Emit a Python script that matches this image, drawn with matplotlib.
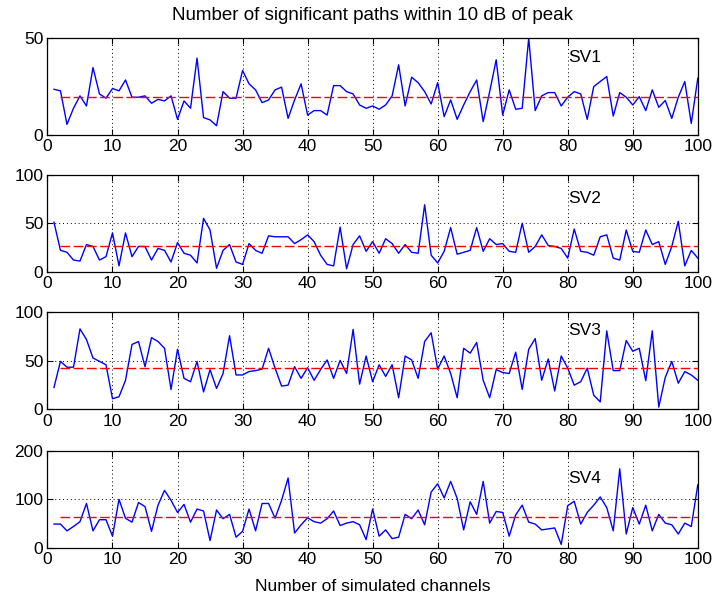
import numpy as np
import matplotlib
matplotlib.use('Agg')
import matplotlib.pyplot as plt

plt.rcParams['font.family'] = ['Liberation Sans', 'DejaVu Sans']
plt.rcParams['font.size'] = 12.5

channels = np.arange(1, 101)

sv1 = [23.6, 22.8, 5.5, 13.8, 20.2, 15, 34.8, 21.2, 19, 24,
       22.8, 28.4, 19.5, 19.5, 20.2, 16.4, 18.4, 17.6, 20.2, 8.1,
       17.6, 13.8, 39.7, 9, 7.8, 4.8, 22.4, 19, 19, 33.3,
       26.4, 23.3, 16.7, 18.1, 23.3, 24.7, 8.6, 18.1, 26.4, 10.3,
       12.6, 12.6, 10.3, 25.5, 25.5, 22.4, 21.2, 15.5, 13.8, 15,
       13.3, 15.5, 20.2, 36.2, 15, 29.8, 27, 22.4, 16, 27,
       9.5, 18.1, 8.1, 15.5, 22.4, 28.4, 6.9, 22.4, 38.8, 10.3,
       23.3, 13.3, 13.8, 50, 12.6, 20.2, 21.9, 21.9, 15, 19.5,
       22.4, 21.2, 8.1, 25, 27.6, 30.2, 9.8, 21.9, 19.5, 15.5,
       19.8, 12.6, 23.3, 14.3, 17.8, 8.6, 19.5, 27.6, 6, 29.3]

sv2 = [51, 22, 20, 12, 11, 28, 26, 12, 15.5, 40,
       6, 40, 15.5, 26, 26, 12, 24, 22, 10, 30,
       19, 17, 9, 55, 43, 3.5, 22, 28, 10, 7.5,
       29, 22, 19, 37, 36, 36, 36, 29, 33, 38,
       31, 17, 7.5, 6, 46, 3, 28, 37, 21, 31,
       19, 34, 29, 19, 28, 20, 19, 69, 17, 9,
       21, 45.5, 18, 20, 22, 45.5, 21, 34, 28, 29,
       21, 20, 50, 20, 26, 38, 27, 26, 24, 14,
       44, 21, 20, 17, 36, 38, 14, 12, 43, 21,
       20, 43, 28, 31, 7.5, 26, 52, 6, 22, 14]

sv3 = [22.6, 49.5, 43.5, 43.5, 83, 72, 53, 49.5, 46, 11,
       13, 30, 67, 70, 44, 74, 70, 63, 20.5, 62,
       32, 28.5, 49.5, 18, 41, 21.6, 37, 76, 35.5, 35.5,
       39, 40, 41.5, 63, 42.5, 24, 25, 44, 32, 43,
       30, 41, 51, 32, 50.5, 37, 82.5, 26, 55, 28.5,
       46, 34, 46, 12, 55, 51, 32, 70, 79, 41.5,
       55, 37, 12, 63, 58, 69, 30, 12, 41, 38,
       37, 59, 20.5, 62, 73, 30, 52, 19, 55, 42.5,
       25, 28.5, 42.5, 14.6, 7.7, 81, 40, 40, 71, 60,
       63, 29.6, 81, 2.4, 33, 49.5, 27, 39, 35.5, 30]

sv4 = [49, 49, 35, 44, 54, 91.5, 35, 58, 58, 24,
       100, 61, 53, 93.5, 85, 34, 88, 118.6, 98, 73,
       89.5, 53, 80, 76, 15, 78, 60, 69, 22, 34,
       80, 35, 91.5, 91.5, 61, 98, 144, 30.5, 47.5, 62,
       54, 51, 60, 76, 46, 51, 54, 47.5, 17, 80,
       24, 37, 19, 22, 69, 60, 78, 47.5, 115, 132,
       103, 137, 102, 37, 95, 69, 137, 51, 75, 73,
       24, 68, 88, 53, 49, 37, 39, 41, 7, 87,
       96, 49, 73, 88, 105, 83, 35, 163, 28.5, 83,
       49, 88, 35, 69, 51, 47.5, 28.5, 51, 44, 130]

series = [sv1, sv2, sv3, sv4]
names = ['SV1', 'SV2', 'SV3', 'SV4']
means = [19.5, 26, 43, 64]
y_limits = [50, 100, 100, 200]
label_y = [40, 76, 81, 144]

fig = plt.figure(figsize=(7.17, 6.02), dpi=100)

# subplot boxes: left, bottom, width, height (figure fraction)
left, width, height = 0.0662, 0.907, 0.161
bottoms = [0.7757, 0.5487, 0.3200, 0.0900]

for k in range(4):
    ax = fig.add_axes([left, bottoms[k], width, height])
    ax.plot(channels, series[k], color='#0000ff', lw=1.0)
    ax.plot(channels[1:], np.full(99, means[k]), color='#ff0000', lw=1.0,
            dashes=(7, 2.5))
    ax.set_xlim(0, 100)
    ax.set_ylim(0, y_limits[k])
    ax.set_xticks(np.arange(0, 101, 10))
    if k == 0:
        ax.set_yticks([0, 50])
        ax.set_yticklabels(['0', '50'])
    else:
        ax.set_yticks([0, y_limits[k] / 2, y_limits[k]])
        ax.set_yticklabels(['0', str(int(y_limits[k] / 2)), str(y_limits[k])])
    ax.grid(True, color='black', linestyle=(0, (1, 3)), lw=0.7)
    ax.tick_params(direction='in', top=True, right=True, length=4,
                   labelsize=12.5, colors='black', pad=3)
    for s in ax.spines.values():
        s.set_linewidth(0.9)
    ax.text(80, label_y[k], names[k], fontsize=12.5, va='center', ha='left')
    if k == 0:
        ax.set_title('Number of significant paths within 10 dB of peak',
                     fontsize=13.5, pad=13)
    if k == 3:
        ax.set_xlabel('Number of simulated channels', fontsize=12.5, labelpad=9)

fig.savefig('out.png', dpi=100)
